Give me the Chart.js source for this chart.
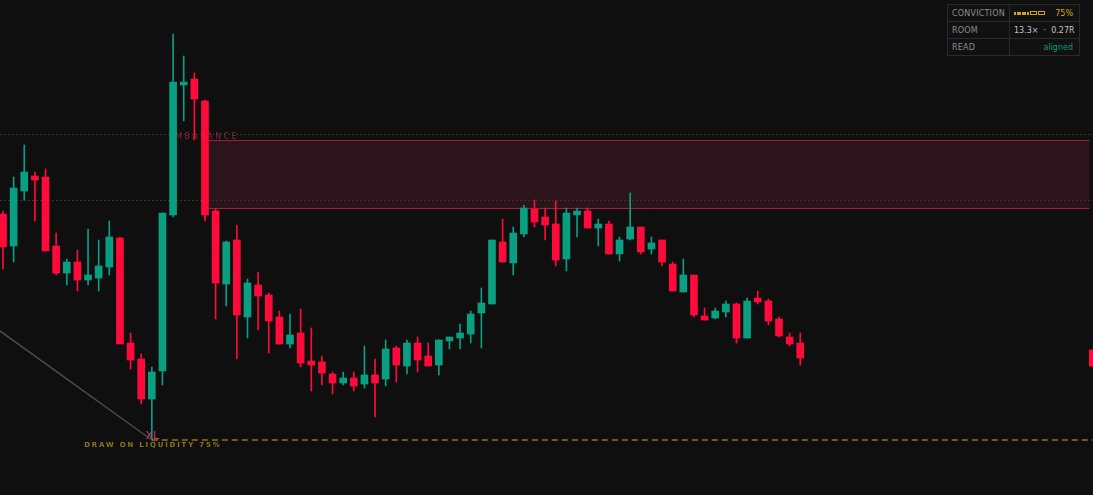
<!DOCTYPE html>
<html>
<head>
<meta charset="utf-8">
<script src="https://cdn.jsdelivr.net/npm/chart.js@4.4.0/dist/chart.umd.min.js"></script>
<style>
  body { margin: 0; background: #0f0f0f; }
  #wrap { position: relative; width: 1093px; height: 495px; }
  #panel {
    position: absolute; left: 947px; top: 4px; width: 133px; table-layout: fixed;
    border: 1px solid #2a2a2a; background: #111111;
    font-family: "DejaVu Sans", sans-serif; font-size: 8px; border-collapse: collapse;
  }
  #panel td { height: 16px; padding: 0 6px 0 4px; border: 1px solid #2a2a2a; white-space: nowrap; overflow: hidden; }
  #panel td.k { color: #8c8c8c; width: 51px; letter-spacing: 0.2px; }
  #panel td.v { text-align: right; }
  .seg { display: inline-block; width: 2px; height: 3px; background: #d4a21a; margin-right: 0.5px; vertical-align: 1px; }
  .seg.off { width: 5px; height: 2px; background: none; border: 1px solid #d4a21a; margin-right: 1px; margin-left: 0.5px; }
</style>
</head>
<body>
<div id="wrap">
  <canvas id="myChart"></canvas>
  <table id="panel">
    <tr><td class="k">CONVICTION</td><td class="v" id="convCell"></td></tr>
    <tr><td class="k">ROOM</td><td class="v" style="color:#c4c4c4">13.3× &nbsp;·&nbsp; 0.27R</td></tr>
    <tr><td class="k">READ</td><td class="v" style="color:#0b9a7b">aligned</td></tr>
  </table>
</div>
<script>
// candle data (price units), one entry per bar
const opens  = [281,249,304,319,318,249,222,233,215,217,228,257,152,136,96,124,280,410,416,394,
                284,211,255,178,210,200,178,151,162,134,133,121,112,117,111,120,116,147,129,152,
                139,130,154,157,161,182,191,253,232,261,286,278,271,236,280,284,267,271,241,256,
                268,246,255,231,203,220,179,177,183,191,157,197,194,176,158,152];
const closes = [248,307,323,315,244,222,233,215,220,229,258,151,135,96,123,282,413,413,396,280,
                212,253,180,212,199,174,151,160,132,130,122,112,117,109,120,112,146,130,152,135,
                129,155,158,162,181,192,255,233,262,287,273,270,235,282,284,267,271,241,255,268,
                243,252,233,204,220,180,175,184,191,157,194,193,174,159,151,137];
const highs  = [284,318,350,323,326,262,236,245,266,255,274,258,162,141,128,282,461,439,422,395,
                286,254,270,216,223,202,184,181,186,167,139,123,123,123,149,136,155,149,155,158,
                152,155,158,171,184,207,255,276,268,290,295,287,294,287,287,287,276,274,258,302,
                268,258,255,233,236,220,187,187,194,192,197,204,196,178,162,162];
const lows   = [226,233,295,274,244,220,210,204,210,204,220,151,126,91,55,110,278,374,355,274,
                176,189,136,157,165,142,151,147,128,104,110,101,110,104,107,78,109,113,121,123,
                129,120,146,146,152,147,191,233,220,258,268,255,229,224,258,267,249,241,234,255,
                241,241,229,204,203,178,175,176,178,152,157,191,170,158,149,130];

// levels
const imbalanceTop = 355;
const imbalanceBottom = 287;
const imbalanceFrom = 19.3;
const imbalanceTo = 102.2;
const guideLevels = [361, 295];
const liquidityLevel = 55;
const liquidityBar = 14;
const trendStart = { x: -1, y: 169.5 };
const conviction = 75;

const upColor = '#0a9e82';
const downColor = '#ff0a3a';

const idx = opens.map((_, i) => i);
const candleColors = idx.map(i => closes[i] >= opens[i] ? upColor : downColor);

// conviction meter in the panel
const filled = Math.round(conviction / 100 * 8);
let segs = '';
for (let i = 0; i < 8; i++) segs += `<span class="seg${i < filled ? '' : ' off'}"></span>`;
document.getElementById('convCell').innerHTML =
    `${segs}<span style="color:#d4a21a;margin-left:9px">${conviction}%</span>`;

const overlay = {
    id: 'overlay',
    beforeDatasetsDraw(chart) {
        const { ctx, chartArea, scales: { x, y } } = chart;
        ctx.save();
        // imbalance zone
        const x0 = x.getPixelForValue(imbalanceFrom), x1 = x.getPixelForValue(imbalanceTo);
        const y0 = Math.round(y.getPixelForValue(imbalanceTop)) + 0.5;
        const y1 = Math.round(y.getPixelForValue(imbalanceBottom)) + 0.5;
        ctx.fillStyle = '#2c141c';
        ctx.fillRect(x0, y0, x1 - x0, y1 - y0);
        ctx.strokeStyle = '#a11d3a';
        ctx.lineWidth = 1;
        ctx.beginPath();
        ctx.moveTo(x0, y0); ctx.lineTo(x1, y0);
        ctx.moveTo(x0, y1); ctx.lineTo(x1, y1);
        ctx.stroke();
        // guide lines
        ctx.strokeStyle = '#3e3416';
        ctx.setLineDash([2, 2]);
        guideLevels.forEach(v => {
            const py = Math.round(y.getPixelForValue(v)) + 0.5;
            ctx.beginPath();
            ctx.moveTo(chartArea.left, py);
            ctx.lineTo(chartArea.right, py);
            ctx.stroke();
        });
        ctx.setLineDash([]);
        // zone label
        ctx.font = '8px "DejaVu Sans"';
        if ('letterSpacing' in ctx) ctx.letterSpacing = '2.4px';
        ctx.fillStyle = '#8a2638';
        ctx.textBaseline = 'alphabetic';
        ctx.fillText('IMBALANCE', x.getPixelForValue(15.75), y.getPixelForValue(guideLevels[0]) + 5);
        ctx.restore();
    },
    afterDatasetsDraw(chart) {
        const { ctx, chartArea, scales: { x, y } } = chart;
        ctx.save();
        const lx = x.getPixelForValue(liquidityBar);
        const ly = y.getPixelForValue(liquidityLevel);
        ctx.textAlign = 'center';
        ctx.font = '11px "DejaVu Sans"';
        ctx.fillStyle = '#d03a60';
        ctx.textBaseline = 'alphabetic';
        ctx.fillText('XL', lx + 0.5, ly - 1.5);
        ctx.font = 'bold 7px "DejaVu Sans"';
        if ('letterSpacing' in ctx) ctx.letterSpacing = '1.8px';
        ctx.fillStyle = '#8c7421';
        ctx.textBaseline = 'middle';
        ctx.fillText(`DRAW ON LIQUIDITY ${conviction}%`, lx + 1, ly + 5.5);
        // last price tag
        const last = closes[closes.length - 1];
        const py = y.getPixelForValue(last);
        ctx.fillStyle = downColor;
        ctx.fillRect(chartArea.right - 4, py - 8.5, 8, 17);
        ctx.restore();
    }
};

const ctx = document.getElementById('myChart').getContext('2d');
const myChart = new Chart(ctx, {
    type: 'bar',
    data: {
        datasets: [
            {
                type: 'line',
                data: [trendStart, { x: liquidityBar, y: liquidityLevel }],
                borderColor: '#4b4b50',
                borderWidth: 1.5,
                pointRadius: 0,
            },
            {
                type: 'line',
                data: [{ x: liquidityBar, y: liquidityLevel }, { x: 103, y: liquidityLevel }],
                borderColor: '#d9a515',
                borderWidth: 1.2,
                borderDash: [6, 4],
                pointRadius: 0,
            },
            {
                label: 'body',
                data: idx.map(i => ({ x: i, y: [opens[i], closes[i]] })),
                backgroundColor: candleColors,
                barThickness: 7,
                grouped: false,
                borderWidth: 0,
            },
            {
                label: 'wick',
                data: idx.map(i => ({ x: i, y: [lows[i], highs[i]] })),
                backgroundColor: candleColors,
                barThickness: 1,
                grouped: false,
                borderWidth: 0,
            },
        ],
    },
    options: {
        responsive: true,
        maintainAspectRatio: false,
        animation: false,
        layout: { padding: 0 },
        plugins: { legend: { display: false }, tooltip: { enabled: false } },
        scales: {
            x: { type: 'linear', min: -0.282, max: 102.54, offset: false, display: false },
            y: { type: 'linear', min: 0, max: 495, display: false },
        },
    },
    plugins: [overlay],
});
</script>
</body>
</html>
